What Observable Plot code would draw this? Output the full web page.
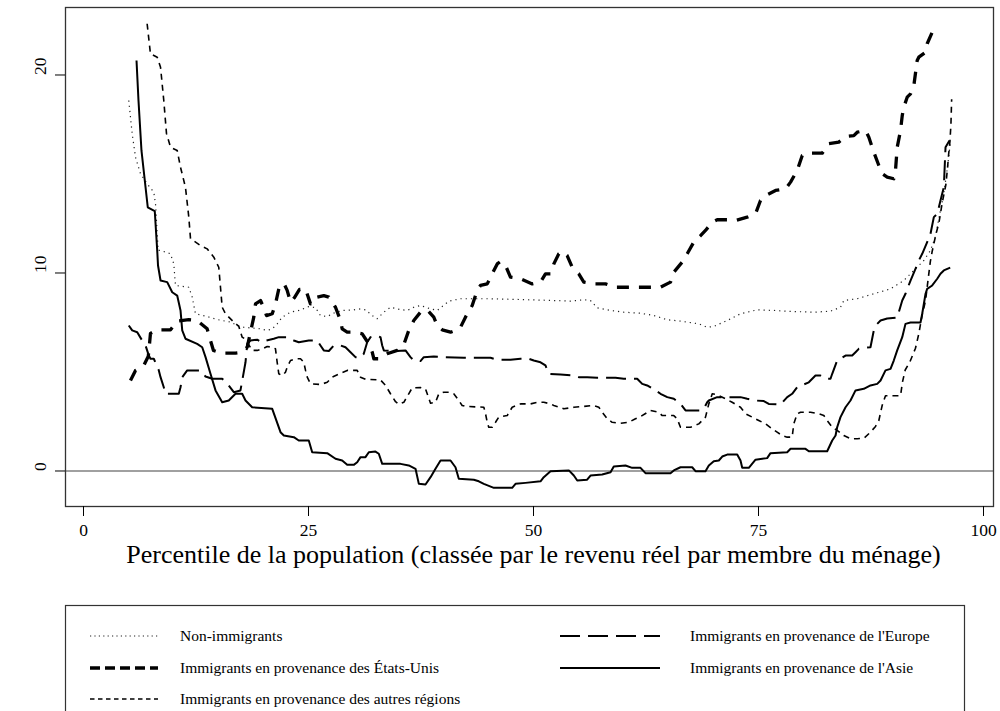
<!DOCTYPE html>
<html><head><meta charset="utf-8">
<script src="https://cdn.jsdelivr.net/npm/d3@7"></script>
<script src="https://cdn.jsdelivr.net/npm/@observablehq/plot@0.6"></script>
<style>
body{margin:0;background:#fff;}
#chart{position:relative;width:1000px;height:711px;overflow:hidden;font-family:"Liberation Serif","Times New Roman",serif;background:#fff;}
#legend{position:absolute;left:0;top:0;pointer-events:none;}
</style></head><body><div id="chart"></div>
<script>
const xTicks = [0, 25, 50, 75, 100];
const yTicks = [0, 10, 20];
const xTitle = "Percentile de la population (classée par le revenu réel par membre du ménage)";
const seriesNames = [
  "Non-immigrants",
  "Immigrants en provenance de l'Europe",
  "Immigrants en provenance des États-Unis",
  "Immigrants en provenance de l'Asie",
  "Immigrants en provenance des autres régions"
];

// [percentile, value]
const nonImmigrants = [[5.03,18.71],[5.22,17.87],[5.41,17.03],[5.78,15.85],[6.33,15.01],[7.07,14.51],[7.81,14.08],[8.0,13.5],[8.19,11.98],[8.3,11.14],[8.56,11.14],[9.67,10.97],[10.03,10.46],[10.22,9.37],[11.7,9.28],[12.08,8.78],[12.44,7.94],[13.74,7.8],[14.86,7.65],[16.33,7.52],[17.08,7.35],[17.81,7.26],[19.67,7.18],[20.41,7.1],[20.97,7.18],[21.52,7.43],[22.08,7.77],[23.0,8.02],[23.92,8.11],[25.03,8.3],[25.78,8.25],[26.33,7.85],[27.08,7.8],[28.0,8.02],[28.92,8.11],[30.03,8.14],[30.78,8.19],[31.33,8.14],[32.08,7.85],[32.63,7.69],[33.37,8.02],[34.11,8.27],[35.22,8.15],[35.96,8.11],[36.7,8.27],[37.44,8.36],[38.56,8.19],[39.3,8.11],[40.59,8.58],[41.89,8.7],[44.86,8.7],[48.56,8.66],[52.26,8.61],[54.11,8.58],[55.59,8.65],[56.33,8.61],[57.08,8.24],[58.56,8.11],[60.03,8.02],[61.89,7.97],[63.37,7.85],[64.86,7.64],[66.33,7.57],[68.37,7.43],[69.3,7.26],[70.03,7.3],[71.52,7.6],[73.0,7.94],[74.86,8.14],[76.7,8.11],[78.56,8.06],[81.15,8.02],[83.0,8.07],[84.11,8.27],[84.48,8.61],[85.96,8.7],[87.81,8.95],[89.67,9.2],[91.14,9.62],[92.26,10.13],[93.37,10.63],[94.11,11.14],[94.67,11.85],[95.1,12.9],[95.5,13.8],[95.9,15.0],[96.3,16.5]];

const europe = [[5.03,7.35],[5.41,7.1],[5.97,7.01],[6.52,6.59],[6.89,6.34],[7.26,5.83],[7.44,5.67],[7.81,5.67],[8.37,5.08],[8.56,4.74],[8.92,4.23],[9.11,3.9],[10.59,3.9],[10.78,4.23],[10.97,4.74],[11.52,5.08],[13.0,5.08],[13.56,4.77],[14.3,4.66],[15.41,4.66],[16.14,4.32],[16.7,3.98],[17.44,4.07],[18.0,5.49],[18.19,6.42],[18.56,6.59],[19.3,6.63],[19.86,6.5],[20.33,6.59],[21.14,6.68],[21.7,6.76],[22.63,6.76],[23.37,6.59],[23.92,6.5],[25.03,6.59],[25.97,6.59],[26.33,6.34],[26.7,6.09],[27.26,6.06],[27.81,6.34],[28.56,6.34],[29.11,6.25],[29.67,6.0],[30.22,5.75],[30.78,5.73],[31.14,5.92],[31.52,6.5],[31.89,6.76],[32.44,6.84],[33.0,6.76],[33.19,6.34],[33.37,6.09],[34.48,6.05],[35.78,6.09],[36.33,5.75],[36.7,5.58],[37.44,5.55],[37.81,5.75],[38.92,5.78],[40.03,5.75],[42.26,5.72],[44.3,5.72],[45.22,5.72],[45.97,5.62],[47.44,5.62],[48.56,5.67],[49.48,5.67],[50.03,5.58],[50.78,5.49],[51.33,5.33],[51.7,4.91],[53.0,4.87],[54.48,4.82],[55.03,4.74],[55.97,4.74],[57.08,4.71],[59.11,4.71],[60.03,4.66],[61.52,4.66],[62.08,4.4],[62.63,4.32],[63.56,4.07],[64.11,3.9],[64.86,3.73],[65.59,3.65],[66.33,3.39],[66.89,3.06],[68.56,3.06],[68.92,3.14],[69.3,3.47],[69.48,3.56],[70.41,3.73],[73.0,3.73],[73.74,3.65],[74.67,3.56],[75.59,3.53],[76.14,3.39],[77.44,3.36],[78.19,3.73],[78.74,3.9],[79.3,4.23],[80.03,4.37],[80.59,4.48],[81.33,4.82],[81.89,4.82],[82.44,4.66],[83.0,4.66],[83.19,4.91],[83.74,5.58],[84.11,5.67],[84.67,5.83],[85.41,5.83],[85.78,6.0],[86.14,6.17],[86.52,6.22],[87.44,6.25],[87.81,7.1],[88.19,7.43],[88.56,7.6],[89.3,7.7],[90.41,7.75],[90.97,8.61],[91.33,8.95],[91.89,9.62],[92.44,10.21],[92.81,10.63],[93.19,10.97],[93.74,11.56],[94.11,11.98],[94.48,12.82],[94.86,12.99],[95.22,13.66],[95.59,14.33],[95.78,16.35],[96.22,16.69]];

const unitedStates = [[5.22,4.57],[5.78,5.08],[6.7,5.33],[7.2,5.8],[7.33,6.4],[7.44,6.95],[8.19,7.13],[9.67,7.13],[10.41,7.57],[11.7,7.64],[12.63,7.6],[13.74,7.18],[14.11,6.59],[14.44,6.09],[15.41,5.95],[16.89,5.95],[17.44,5.98],[18.19,6.25],[18.92,7.77],[19.11,8.44],[19.67,8.61],[20.0,8.27],[20.33,7.85],[20.97,7.94],[21.33,8.44],[21.7,9.2],[22.26,9.48],[22.63,9.12],[23.0,8.53],[23.44,8.76],[24.0,9.17],[24.67,9.2],[25.22,8.44],[25.59,8.44],[25.97,8.78],[26.7,8.86],[27.26,8.78],[28.0,8.27],[28.56,7.6],[28.74,7.18],[29.3,7.01],[30.03,7.01],[30.97,6.93],[31.7,6.42],[32.08,6.0],[32.26,5.67],[32.81,5.67],[33.74,5.92],[34.86,6.09],[35.59,6.39],[36.14,7.1],[36.7,7.6],[37.44,8.02],[38.19,8.14],[38.92,7.77],[39.3,7.35],[39.86,7.13],[40.78,7.01],[41.33,7.1],[41.89,7.26],[42.44,7.77],[43.19,8.36],[43.74,9.12],[44.11,9.37],[44.86,9.45],[45.41,9.96],[45.97,10.46],[46.33,10.58],[46.89,10.38],[47.44,9.79],[48.56,9.71],[49.86,9.45],[50.78,9.54],[51.33,9.96],[51.89,9.96],[52.26,10.46],[52.81,10.97],[53.22,11.09],[53.74,10.88],[54.3,10.29],[55.03,9.96],[55.59,9.54],[56.7,9.45],[58.0,9.45],[59.11,9.28],[61.89,9.28],[64.11,9.28],[65.22,9.54],[65.59,10.04],[66.52,10.55],[67.08,10.97],[67.81,11.56],[68.56,11.89],[69.11,12.15],[69.86,12.57],[70.41,12.69],[71.52,12.69],[72.44,12.65],[73.74,12.82],[74.67,12.99],[75.22,13.66],[75.78,13.91],[76.89,14.17],[78.0,14.25],[78.56,14.59],[79.3,15.18],[79.86,15.93],[80.59,16.05],[82.08,16.05],[82.81,16.53],[83.92,16.61],[84.67,16.89],[85.59,16.94],[85.97,17.11],[86.89,17.2],[87.26,16.86],[87.81,16.1],[88.37,15.43],[88.74,15.01],[89.3,14.84],[90.03,14.76],[90.22,15.18],[90.41,16.35],[90.78,17.2],[90.97,17.95],[91.14,18.37],[91.52,18.88],[91.89,19.05],[92.26,19.47],[92.63,20.73],[92.81,20.9],[93.56,21.15],[93.74,21.58],[94.3,22.16]];

const asia = [[5.89,20.73],[6.11,18.71],[6.44,16.19],[7.14,13.32],[7.92,13.12],[8.19,11.14],[8.28,10.38],[8.56,9.62],[9.3,9.54],[9.86,9.03],[10.41,8.86],[10.78,8.11],[10.97,7.1],[11.33,6.68],[12.63,6.42],[13.19,6.25],[13.56,5.75],[14.11,4.91],[14.67,4.07],[15.41,3.47],[16.14,3.56],[16.89,3.9],[17.63,3.9],[18.0,3.56],[18.74,3.22],[20.97,3.14],[21.89,1.96],[22.26,1.79],[23.37,1.71],[23.92,1.54],[25.03,1.54],[25.41,0.95],[27.08,0.9],[28.0,0.62],[28.74,0.53],[29.3,0.31],[30.03,0.31],[30.41,0.44],[30.78,0.7],[31.33,0.7],[31.7,0.95],[32.44,0.98],[32.81,0.87],[33.19,0.36],[35.22,0.36],[36.14,0.28],[36.89,0.11],[37.26,-0.65],[38.0,-0.68],[38.56,-0.31],[39.11,0.11],[39.67,0.53],[40.78,0.53],[41.33,0.19],[41.7,-0.39],[43.37,-0.44],[43.92,-0.52],[44.48,-0.65],[45.59,-0.85],[47.63,-0.85],[48.0,-0.65],[49.11,-0.6],[50.78,-0.52],[51.14,-0.31],[51.89,-0.01],[53.93,0.03],[54.48,-0.23],[54.86,-0.48],[55.96,-0.44],[56.33,-0.23],[57.63,-0.18],[58.56,-0.06],[58.92,0.23],[60.22,0.28],[60.96,0.16],[61.89,0.16],[62.44,-0.11],[65.22,-0.11],[65.59,0.03],[66.33,0.19],[67.63,0.19],[68.0,-0.01],[69.11,-0.01],[69.48,0.28],[70.03,0.49],[70.59,0.53],[70.97,0.73],[71.52,0.83],[72.63,0.83],[73.0,0.53],[73.19,0.16],[73.92,0.16],[74.67,0.57],[75.96,0.65],[76.33,0.9],[78.19,0.95],[78.56,1.12],[80.22,1.12],[80.59,1.0],[82.63,1.0],[83.19,1.54],[83.56,1.79],[83.74,2.21],[84.11,2.72],[84.67,3.22],[85.22,3.56],[85.78,4.07],[86.7,4.15],[87.44,4.32],[88.19,4.4],[88.56,4.57],[89.11,5.08],[89.67,5.16],[90.03,5.58],[90.41,6.09],[90.97,6.76],[91.33,7.43],[91.89,7.5],[93.0,7.5],[93.19,7.94],[93.56,8.95],[93.74,9.2],[94.3,9.37],[94.86,9.71],[95.22,9.96],[95.59,10.13],[96.3,10.27]];

const otherRegions = [[7.07,22.59],[7.44,21.07],[8.19,20.9],[8.56,20.39],[8.92,18.71],[9.22,17.05],[9.67,16.35],[10.41,16.19],[10.78,15.34],[11.33,14.33],[11.7,12.82],[11.89,11.73],[13.0,11.39],[13.74,11.22],[14.48,10.8],[15.03,10.29],[15.22,9.28],[15.41,8.27],[15.78,7.94],[16.7,7.52],[17.26,7.3],[17.63,6.76],[18.0,6.65],[18.74,6.09],[19.3,6.09],[19.86,6.17],[20.41,6.29],[20.97,6.25],[21.33,6.17],[21.52,5.49],[21.7,4.91],[22.08,4.82],[22.44,4.99],[22.63,5.24],[23.0,5.58],[23.56,5.67],[24.11,5.67],[24.48,5.49],[24.67,5.08],[24.86,4.74],[25.22,4.4],[26.33,4.37],[27.08,4.48],[27.63,4.74],[28.37,4.9],[29.3,5.08],[30.41,5.08],[30.78,4.74],[31.33,4.63],[33.0,4.6],[33.56,4.32],[34.11,3.9],[34.67,3.5],[35.03,3.37],[35.59,3.47],[36.14,3.9],[36.52,4.2],[37.44,4.22],[38.0,4.15],[38.19,3.9],[38.56,3.42],[39.11,3.47],[39.48,3.9],[40.03,3.98],[40.59,3.98],[41.14,3.9],[41.7,3.56],[42.07,3.31],[42.63,3.26],[44.48,3.22],[44.67,2.89],[44.86,2.46],[45.03,2.21],[45.41,2.21],[45.78,2.46],[46.14,2.72],[47.08,2.8],[47.63,3.22],[48.56,3.39],[49.67,3.39],[50.41,3.47],[51.14,3.47],[51.89,3.39],[52.26,3.31],[53.37,3.14],[54.48,3.22],[55.59,3.26],[56.7,3.31],[57.26,3.22],[57.63,2.97],[58.19,2.64],[58.74,2.46],[59.67,2.41],[60.59,2.46],[61.33,2.64],[61.89,2.75],[63.0,3.06],[63.92,2.97],[64.3,2.8],[65.59,2.8],[65.96,2.64],[66.33,2.21],[67.44,2.21],[68.37,2.38],[69.11,2.72],[69.48,3.39],[69.86,3.9],[70.41,3.85],[71.33,3.65],[72.07,3.47],[73.0,3.22],[73.56,2.89],[74.3,2.72],[75.03,2.55],[75.78,2.38],[76.52,2.13],[77.07,1.96],[77.63,1.79],[78.19,1.71],[78.74,1.71],[78.92,2.38],[79.3,2.89],[79.67,2.97],[80.78,2.97],[81.7,2.89],[82.26,2.8],[82.63,2.55],[83.19,2.21],[83.74,2.05],[84.48,1.79],[85.22,1.63],[85.96,1.63],[86.7,1.65],[87.44,1.96],[88.0,2.25],[88.37,2.55],[88.74,3.31],[89.11,3.8],[90.03,3.8],[90.78,3.8],[91.0,4.5],[91.3,5.1],[91.83,5.52],[92.44,6.2],[92.81,6.93],[93.19,7.9],[93.56,8.6],[93.85,9.7],[94.1,10.6],[94.3,11.1],[94.68,11.89],[95.06,12.57],[95.43,13.59],[95.81,14.44],[96.0,15.29],[96.12,15.97],[96.27,16.65],[96.38,17.5],[96.46,18.78]];

const seriesData = [nonImmigrants, europe, unitedStates, asia, otherRegions];
const seriesStyles = [
  {stroke: "#222", strokeWidth: 1.2, strokeDasharray: "1.2,4"},
  {stroke: "#000", strokeWidth: 2, strokeDasharray: "20,8"},
  {stroke: "#000", strokeWidth: 3.3, strokeDasharray: "12,10"},
  {stroke: "#000", strokeWidth: 2, strokeDasharray: null},
  {stroke: "#000", strokeWidth: 1.6, strokeDasharray: "6,5"}
];

const table = seriesData.flatMap((s, i) => s.map(([x, y]) => ({series: seriesNames[i], x, y})));

const lineMarks = seriesNames.map((name, i) => Plot.line(table.filter(d => d.series === name), {
  x: "x", y: "y",
  stroke: seriesStyles[i].stroke,
  strokeWidth: seriesStyles[i].strokeWidth,
  strokeDasharray: seriesStyles[i].strokeDasharray || undefined,
  strokeLinecap: "butt",
  strokeLinejoin: "round"
}));

const FONT = "Liberation Serif";
const plot = Plot.plot({
  width: 1000,
  height: 590,
  marginLeft: 65,
  marginRight: 7,
  marginTop: 7,
  marginBottom: 84,
  style: {fontFamily: FONT, background: "#fff"},
  x: {domain: [-2, 101.11]},
  y: {domain: [-1.793, 23.409]},
  marks: [
    Plot.ruleY([0], {stroke: "#808080", strokeWidth: 1.4}),
    ...lineMarks,
    Plot.frame({stroke: "#333", strokeWidth: 1.3}),
    Plot.axisX({ticks: xTicks, tickSize: 10, tickPadding: 7, fontSize: 17.5, label: null, tickFormat: d => String(d), fontFamily: FONT}),
    Plot.axisY({ticks: yTicks, tickSize: 10, tickFormat: () => "", label: null}),
    Plot.text(yTicks, {y: d => d, text: d => String(d), frameAnchor: "left", dx: -25, rotate: -90, fontSize: 17.5, fontFamily: FONT, fill: "#000"}),
    Plot.text([xTitle], {text: d => d, frameAnchor: "bottom", dx: 4, dy: 56, fontSize: 26, fontFamily: FONT, fill: "#000"})
  ]
});
const chart = document.getElementById("chart");
chart.appendChild(plot);

// Legend (below the plot area)
const legendItems = [
  {i: 0, col: 0, row: 0},
  {i: 1, col: 1, row: 0},
  {i: 2, col: 0, row: 1},
  {i: 3, col: 1, row: 1},
  {i: 4, col: 0, row: 2}
];
const lg = d3.create("svg").attr("id", "legend").attr("width", 1000).attr("height", 711);
lg.append("rect").attr("x", 65.5).attr("y", 605.5).attr("width", 899).attr("height", 130)
  .attr("fill", "none").attr("stroke", "#333").attr("stroke-width", 1.2);
const colSample = [[90, 158], [560, 660]];
const colText = [180, 690];
const rowY = [636, 668, 699];
const legendDash = ["1.2,3.2", "20,8", "10,5", null, "4.5,3.5"];
for (const it of legendItems) {
  const st = seriesStyles[it.i];
  const y = rowY[it.row];
  const ln = lg.append("line")
    .attr("x1", colSample[it.col][0]).attr("x2", colSample[it.col][1])
    .attr("y1", y).attr("y2", y)
    .attr("stroke", st.stroke).attr("stroke-width", st.strokeWidth);
  if (legendDash[it.i]) ln.attr("stroke-dasharray", legendDash[it.i]);
  lg.append("text").attr("x", colText[it.col]).attr("y", y).attr("dy", "0.35em")
    .attr("font-family", FONT).attr("font-size", 15.5).attr("fill", "#000")
    .text(seriesNames[it.i]);
}
chart.appendChild(lg.node());
</script></body></html>
